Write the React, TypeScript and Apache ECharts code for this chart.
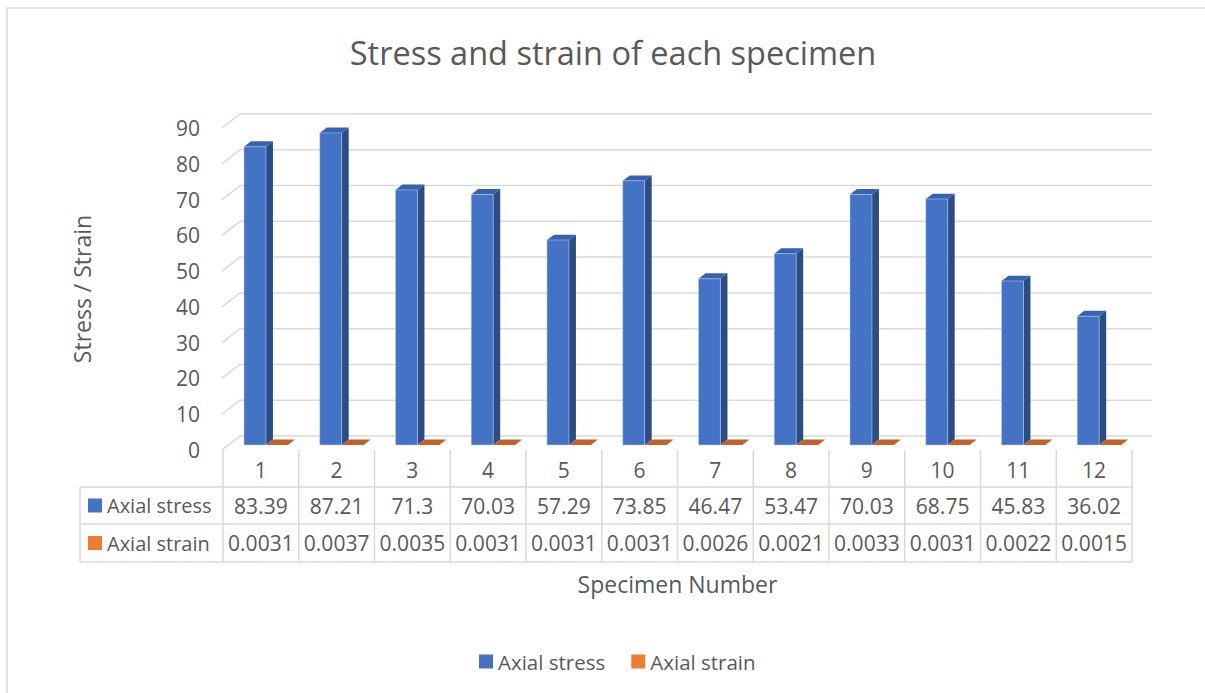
import React, { useEffect, useRef } from "react";
import * as echarts from "echarts";

const categories = ["1", "2", "3", "4", "5", "6", "7", "8", "9", "10", "11", "12"];
const axialStress = [83.39, 87.21, 71.3, 70.03, 57.29, 73.85, 46.47, 53.47, 70.03, 68.75, 45.83, 36.02];
const axialStrain = [0.0031, 0.0037, 0.0035, 0.0031, 0.0031, 0.0031, 0.0026, 0.0021, 0.0033, 0.0031, 0.0022, 0.0015];
const yTicks = [0, 10, 20, 30, 40, 50, 60, 70, 80, 90];
const seriesNames = ["Axial stress", "Axial strain"];
const titleText = "Stress and strain of each specimen";
const xTitle = "Specimen Number";
const yTitle = "Stress / Strain";

const FONT = "'Open Sans', sans-serif";
const TXT = "#595959";
const LINE = "#d9d9d9";
const BLUE = "#4472C4";
const ORANGE = "#ED7D31";
const DX = 18;
const DY = -14;

const TABLE_TOP = 450;
const ROW1 = 487;
const ROW2 = 524;
const ROW3 = 562;
const TABLE_LEFT = 80;

function makeBarRender(slot: number, front: string, side: string, top: string) {
  return (params: any, api: any) => {
    const idx = api.value(0);
    const val = api.value(1);
    const base = api.coord([idx, 0]);
    const tp = api.coord([idx, val]);
    const band = api.size([1, 0])[0];
    const bandLeft = base[0] - band / 2;
    const w = band * 0.29;
    const L = bandLeft + band * 0.277 + slot * w;
    const y0 = base[1] - 5;
    const y1 = tp[1] - 5;
    const dx = 7;
    const dy = -5.4;
    return {
      type: "group",
      children: [
        {
          type: "polygon",
          shape: { points: [[L + w, y1], [L + w + dx, y1 + dy], [L + w + dx, y0 + dy], [L + w, y0]] },
          style: { fill: side },
        },
        {
          type: "polygon",
          shape: { points: [[L, y1], [L + dx, y1 + dy], [L + w + dx, y1 + dy], [L + w, y1]] },
          style: { fill: top },
        },
        {
          type: "rect",
          shape: { x: L, y: y1, width: w, height: Math.max(0, y0 - y1) },
          style: { fill: front, stroke: "rgba(200,215,240,0.6)", lineWidth: slot === 0 ? 0.8 : 0 },
        },
      ],
    };
  };
}

export default function App() {
  const ref = useRef<HTMLDivElement>(null);

  useEffect(() => {
    if (!ref.current) return;
    const chart = echarts.init(ref.current, undefined, { renderer: "svg" });
    const last = categories.length - 1;

    const option: any = {
      animation: false,
      backgroundColor: "#ffffff",
      title: {
        text: titleText,
        left: 608,
        top: 31,
        textAlign: "center",
        textStyle: { fontFamily: FONT, fontSize: 32.5, fontWeight: "normal", color: TXT },
      },
      legend: {
        data: seriesNames,
        left: 474,
        top: 646,
        icon: "rect",
        itemWidth: 14,
        itemHeight: 14,
        itemGap: 26,
        selectedMode: false,
        textStyle: { fontFamily: FONT, fontSize: 20.5, color: TXT },
      },
      grid: { left: 223, top: 128, width: 909, height: 322, containLabel: false },
      xAxis: {
        type: "category",
        data: categories,
        axisLine: { show: false },
        axisTick: { show: false },
        axisLabel: { show: false },
        splitLine: { show: false },
        name: xTitle,
        nameLocation: "middle",
        nameGap: 122,
        nameTextStyle: { fontFamily: FONT, fontSize: 23, color: TXT },
      },
      yAxis: {
        type: "value",
        min: 0,
        max: 90,
        interval: 10,
        axisLine: { show: false },
        axisTick: { show: false },
        splitLine: { show: false },
        axisLabel: { fontFamily: FONT, fontSize: 21, color: TXT, margin: 23 },
        name: yTitle,
        nameLocation: "middle",
        nameRotate: 90,
        nameGap: 130,
        nameTextStyle: { fontFamily: FONT, fontSize: 23, color: TXT },
      },
      graphic: [
        {
          type: "rect",
          shape: { x: 7, y: 8, width: 1400, height: 900 },
          style: { fill: "none", stroke: LINE, lineWidth: 1.5 },
          silent: true,
        },
        { type: "line", shape: { x1: TABLE_LEFT, y1: ROW1, x2: 1132, y2: ROW1 }, style: { stroke: LINE, lineWidth: 1.5 } },
        { type: "line", shape: { x1: TABLE_LEFT, y1: ROW2, x2: 1132, y2: ROW2 }, style: { stroke: LINE, lineWidth: 1.5 } },
        { type: "line", shape: { x1: TABLE_LEFT, y1: ROW3, x2: 1132, y2: ROW3 }, style: { stroke: LINE, lineWidth: 1.5 } },
        { type: "line", shape: { x1: TABLE_LEFT, y1: ROW1, x2: TABLE_LEFT, y2: ROW3 }, style: { stroke: LINE, lineWidth: 1.5 } },
        { type: "rect", shape: { x: 88, y: 498.5, width: 14, height: 14 }, style: { fill: BLUE } },
        { type: "rect", shape: { x: 88, y: 536, width: 14, height: 14 }, style: { fill: ORANGE } },
        {
          type: "text",
          style: { text: seriesNames[0], x: 107, y: (ROW1 + ROW2) / 2, verticalAlign: "middle", align: "left", fill: TXT, font: `20px ${FONT}` },
        },
        {
          type: "text",
          style: { text: seriesNames[1], x: 107, y: (ROW2 + ROW3) / 2, verticalAlign: "middle", align: "left", fill: TXT, font: `20px ${FONT}` },
        },
      ],
      series: [
        {
          type: "custom",
          name: "grid-lines",
          silent: true,
          clip: false,
          z: 1,
          data: yTicks.map((t) => [0, t]),
          renderItem: (params: any, api: any) => {
            const t = api.value(1);
            const cs = params.coordSys;
            const y = api.coord([0, t])[1];
            return {
              type: "polyline",
              shape: { points: [[cs.x - 1, y], [cs.x - 1 + DX, y + DY], [cs.x + cs.width + DX + 2, y + DY]] },
              style: { stroke: LINE, lineWidth: 1.5, fill: "none" },
            };
          },
        },
        {
          type: "custom",
          name: seriesNames[0],
          clip: false,
          z: 3,
          itemStyle: { color: BLUE },
          data: axialStress.map((v, i) => [i, v]),
          renderItem: makeBarRender(0, BLUE, "#2B4C85", "#3762AE"),
        },
        {
          type: "custom",
          name: seriesNames[1],
          clip: false,
          z: 3,
          itemStyle: { color: ORANGE },
          data: axialStrain.map((v, i) => [i, v]),
          renderItem: makeBarRender(1, ORANGE, "#B3561F", "#C0622A"),
        },
        {
          type: "custom",
          name: "data-table",
          silent: true,
          clip: false,
          z: 2,
          data: categories.map((c, i) => [i, 0]),
          renderItem: (params: any, api: any) => {
            const i = api.value(0);
            const c = api.coord([i, 0]);
            const band = api.size([1, 0])[0];
            const left = c[0] - band / 2;
            const children: any[] = [
              { type: "line", shape: { x1: left, y1: TABLE_TOP, x2: left, y2: ROW3 }, style: { stroke: LINE, lineWidth: 1.5 } },
              {
                type: "text",
                style: { text: categories[i], x: c[0], y: (TABLE_TOP + ROW1) / 2 + 1, align: "center", verticalAlign: "middle", fill: TXT, font: `21px ${FONT}` },
              },
              {
                type: "text",
                style: { text: String(axialStress[i]), x: c[0], y: (ROW1 + ROW2) / 2, align: "center", verticalAlign: "middle", fill: TXT, font: `21px ${FONT}` },
              },
              {
                type: "text",
                style: { text: axialStrain[i].toFixed(4), x: c[0], y: (ROW2 + ROW3) / 2, align: "center", verticalAlign: "middle", fill: TXT, font: `21px ${FONT}` },
              },
            ];
            if (i === last) {
              children.push({ type: "line", shape: { x1: left + band, y1: TABLE_TOP, x2: left + band, y2: ROW3 }, style: { stroke: LINE, lineWidth: 1.5 } });
            }
            return { type: "group", children };
          },
        },
      ],
    };

    chart.setOption(option);
    return () => chart.dispose();
  }, []);

  return (
    <div
      ref={ref}
      style={{ position: "absolute", left: 0, top: 0, width: 1205, height: 693, background: "#fff" }}
    />
  );
}
